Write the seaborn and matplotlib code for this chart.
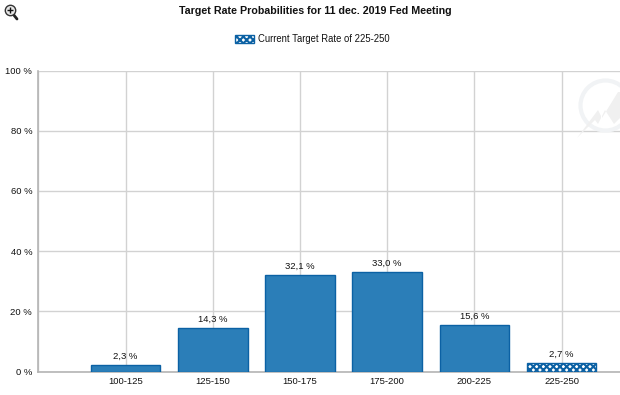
import matplotlib
matplotlib.use("Agg")
import matplotlib.pyplot as plt
import seaborn as sns
from matplotlib.patches import Patch, Polygon
from matplotlib.lines import Line2D

categories = ["100-125", "125-150", "150-175", "175-200", "200-225", "225-250"]
probabilities = [2.3, 14.3, 32.1, 33.0, 15.6, 2.7]
bar_labels = ["2,3 %", "14,3 %", "32,1 %", "33,0 %", "15,6 %", "2,7 %"]
y_ticks = [0, 20, 40, 60, 80, 100]
y_tick_labels = ["0 %", "20 %", "40 %", "60 %", "80 %", "100 %"]
title = "Target Rate Probabilities for 11 dec. 2019 Fed Meeting"
legend_label = "Current Target Rate of 225-250"

sns.set_theme(style="white")
plt.rcParams["font.family"] = ["Liberation Sans", "DejaVu Sans"]
plt.rcParams["hatch.linewidth"] = 1.5

W, H = 620, 395
fig = plt.figure(figsize=(W / 100, H / 100), dpi=100, facecolor="white")
ax = fig.add_axes([38.4 / W, (H - 371.5) / H, 1 - 38.4 / W, 301 / H])

FILL = "#2b7eb8"
EDGE = "#0b61a4"
GRID = "#d2d2d2"
AXIS = "#b4b4b4"
TEXT = "#111111"

sns.barplot(x=categories, y=probabilities, order=categories, color=FILL, saturation=1,
            width=0.8, edgecolor=EDGE, linewidth=1.0, ax=ax, zorder=3)
bars = ax.containers[0]
bars[-1].set_facecolor("white")
bars[-1].set_hatch("xxxxx")

ax.set_xlim(-1, 5.67)
ax.set_ylim(0, 100)
ax.set_xticks(range(-1, 6), [""] + categories)
ax.set_yticks(y_ticks, y_tick_labels)
ax.grid(True, color=GRID, linewidth=1.0)
ax.set_axisbelow(True)
ax.set_xlabel("")
ax.set_ylabel("")
ax.tick_params(axis="x", length=2.5, width=1, color=AXIS, labelsize=6.8, labelcolor=TEXT, pad=1.5)
ax.tick_params(axis="y", length=2.5, width=1, color=AXIS, labelsize=6.8, labelcolor=TEXT, pad=2)
for name, spine in ax.spines.items():
    spine.set_visible(name in ("left", "bottom"))
    spine.set_color(AXIS)
    spine.set_linewidth(1.2)

ax.bar_label(bars, labels=bar_labels, padding=3, fontsize=6.8, color=TEXT, zorder=5)

fig.text(315 / W, 1 - 11.5 / H, title, ha="center", va="center",
         fontsize=7.7, fontweight="bold", color=TEXT)

handle = Patch(facecolor="white", edgecolor=EDGE, hatch="xxxxx", linewidth=1.0)
fig.legend([handle], [legend_label], loc="center", bbox_to_anchor=(312.5 / W, 1 - 39.5 / H),
           frameon=False, fontsize=6.85, handlelength=2.0, handleheight=0.85, handletextpad=0.42,
           labelcolor=TEXT, borderpad=0)

# magnifier icon, top left
fig.add_artist(Line2D([13 / W, 17 / W], [1 - 14 / H, 1 - 19 / H], color="#222222", linewidth=2))
fig.add_artist(Line2D([9.5 / W], [1 - 10 / H], marker="o", markersize=7.5, markerfacecolor="#e8e8e8",
                      markeredgecolor="#333333", markeredgewidth=1.0))
fig.add_artist(Line2D([9.5 / W], [1 - 10 / H], marker="+", markersize=4.5,
                      markeredgecolor=TEXT, markeredgewidth=1.0))

# faint watermark, right of the plot
fig.add_artist(Line2D([605 / W], [1 - 105 / H], marker="o", markersize=36, markerfacecolor="none",
                      markeredgecolor="#f1f3f5", markeredgewidth=3, zorder=1))
px = [577, 598, 602, 618, 620, 620, 614, 605, 598, 595]
py = [138, 110, 118, 92, 92, 118, 124, 110, 124, 120]
fig.add_artist(Polygon([(x / W, 1 - y / H) for x, y in zip(px, py)], closed=True,
                       facecolor="#f0f0f0", edgecolor="none", transform=fig.transFigure, zorder=1))

fig.savefig("out.png", dpi=100)
